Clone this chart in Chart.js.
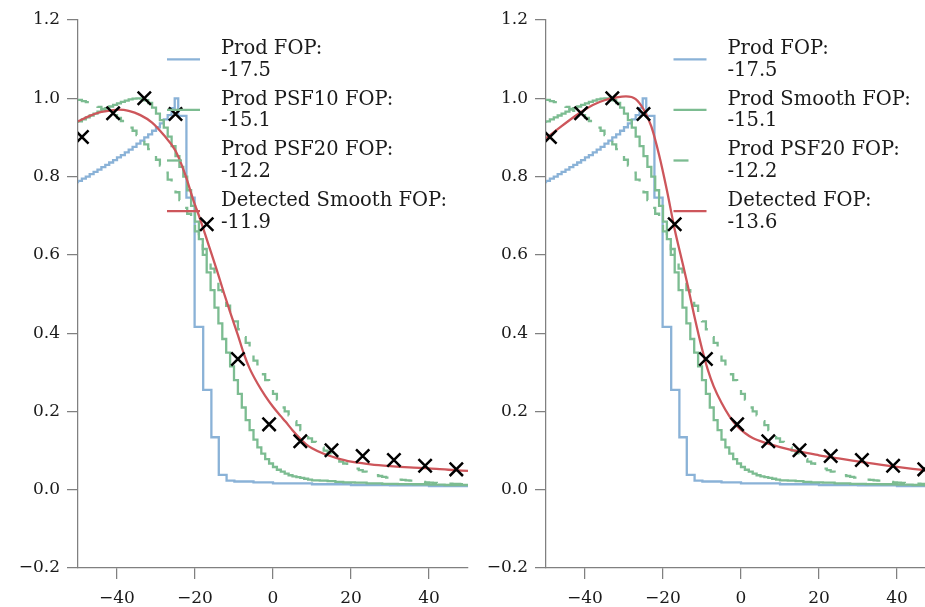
<!DOCTYPE html>
<html><head><meta charset="utf-8">
<script src="https://cdn.jsdelivr.net/npm/chart.js@4.4.1/dist/chart.umd.min.js"></script>
<style>
html,body{margin:0;padding:0;background:#fff;overflow:hidden;width:925px;height:607px;}
.wrap{position:absolute;top:0;width:470px;height:607px;}
#wrapL{left:0;}
#wrapR{left:468px;}
</style></head><body>
<div id="wrapL" class="wrap"><canvas id="cL" width="470" height="607"></canvas></div>
<div id="wrapR" class="wrap"><canvas id="cR" width="470" height="607"></canvas></div>
<script>
// ---------- tick labels ----------
const xTicks = [-40, -20, 0, 20, 40];
const xTickLabels = ['\u221240', '\u221220', '0', '20', '40'];
const yTicks = [-0.2, 0.0, 0.2, 0.4, 0.6, 0.8, 1.0, 1.2];
const yTickLabels = ['\u22120.2', '0.0', '0.2', '0.4', '0.6', '0.8', '1.0', '1.2'];

// ---------- Prod FOP (blue step, both panels) ----------
const prodX = [-50,-49,-48,-47,-46,-45,-44,-43,-42,-41,-40,-39,-38,-37,-36,-35,-34,-33,-32,-31,-30,-29,-28,-27,-26,
  -25.2,-24.3,-22.2,-20.1,-17.9,-15.8,-13.9,-11.9,-9.9,-5,0,10,20,30,40,50];
const prodY = [0.783,0.789,0.795,0.800,0.806,0.812,0.818,0.824,0.830,0.836,0.842,0.849,0.855,0.862,0.869,0.876,0.884,0.892,0.900,0.908,0.917,0.926,0.936,0.946,0.957,
  0.975,1.0,0.955,0.746,0.416,0.255,0.134,0.038,0.023,0.021,0.019,0.016,0.014,0.012,0.011,0.0095];

// ---------- Prod PSF10 / Smooth FOP (green solid step) ----------
const smoothX = [-50,-49,-48,-47,-46,-45,-44,-43,-42,-41,-40,-39,-38,-37,-36,-35,-34,-33,-32,-31,
  -30,-29,-28,-27,-26,-25,-24,-23,-22,-21,-20,-19,-18,-17,-16,-15,-14,-13,-12,-11,
  -10,-9,-8,-7,-6,-5,-4,-3,-2,-1,0,1,2,3,4,5,6,7,8,9,10,
  12,14,16,18,21,24,28,32,36,40,44,48,50];
const smoothY = [0.937,0.941,0.946,0.951,0.956,0.961,0.966,0.971,0.975,0.979,0.983,0.987,0.991,0.994,0.997,0.999,1.000,0.999,0.995,0.988,
  0.976,0.961,0.944,0.925,0.902,0.878,0.852,0.825,0.800,0.765,0.725,0.685,0.640,0.600,0.555,0.510,0.465,0.425,0.385,0.350,
  0.315,0.280,0.245,0.210,0.178,0.152,0.128,0.108,0.092,0.078,0.067,0.058,0.051,0.046,0.041,0.037,0.034,0.032,0.030,0.028,0.026,
  0.024,0.023,0.022,0.020,0.019,0.018,0.016,0.015,0.0145,0.014,0.013,0.012,0.012];

// ---------- Prod PSF20 FOP (green dashed step) ----------
const psf20X = [-50,-49,-48,-47,-46,-45,-44,-43,-42,-41,-40,-39,-38,-37,-36,-35,-34,-33,-32,-31,
  -30,-29,-28,-27,-26,-25,-24,-23,-22,-21,-20,-19,-18,-17,-16,-15,-14,-13,-12,-11,
  -10,-9,-8,-7,-6,-5,-4,-3,-2,-1,0,1,2,3,4,5,6,7,8,9,
  10,11,12,13,14,15,16,17,18,19,20,21,22,23,24,25,26,27,28,29,
  30,31,32,33,34,35,36,37,38,39,40,41,42,43,44,45,46,47,48,49,50];
const psf20Y = [0.998,0.996,0.993,0.990,0.986,0.982,0.978,0.973,0.968,0.962,0.957,0.950,0.942,0.934,0.925,0.917,0.906,0.895,0.882,0.870,
  0.858,0.843,0.828,0.810,0.792,0.775,0.760,0.740,0.720,0.705,0.690,0.660,0.640,0.615,0.585,0.565,0.545,0.510,0.490,0.470,
  0.450,0.430,0.410,0.390,0.375,0.355,0.330,0.320,0.295,0.280,0.265,0.245,0.230,0.210,0.200,0.190,0.175,0.165,0.152,0.140,
  0.131,0.122,0.115,0.108,0.100,0.093,0.085,0.078,0.072,0.067,0.062,0.058,0.054,0.050,0.046,0.043,0.040,0.037,0.035,0.033,
  0.031,0.029,0.027,0.026,0.025,0.024,0.023,0.022,0.021,0.020,0.019,0.018,0.0175,0.017,0.0165,0.016,0.0155,0.015,0.0147,0.0145,0.0145];

// ---------- Detected Smooth FOP (left red curve) ----------
const detSmoothX = [-50,-47,-44,-41,-39.5,-37,-34,-31,-28,-25,-22.5,-20.5,-18.6,-16.5,-14.4,-12.5,-10.9,-9,-7.5,-6,-4,-2,0,2,3.2,5,7,8.5,10,13,16,20,25,30,35,40,45,50];
const detSmoothY = [0.941,0.955,0.965,0.970,0.971,0.968,0.957,0.938,0.906,0.866,0.805,0.742,0.689,0.625,0.561,0.500,0.451,0.395,0.348,0.310,0.272,0.240,0.212,0.188,0.174,0.152,0.130,0.116,0.106,0.092,0.082,0.0715,0.065,0.0605,0.057,0.0545,0.051,0.048];

// ---------- Detected FOP (right red curve) ----------
const detX = [-50,-47,-44,-41,-38,-35,-32,-29.5,-27,-25,-23,-21,-19,-17,-15,-13.6,-12,-10,-8.5,-7,-5,-3,-1,1,3,6.5,10,15,20,25,32,41,47,50];
const detY = [0.898,0.921,0.944,0.965,0.983,0.995,1.002,1.005,0.998,0.972,0.928,0.855,0.765,0.665,0.580,0.519,0.445,0.360,0.306,0.264,0.222,0.188,0.162,0.145,0.132,0.119,0.109,0.097,0.088,0.080,0.069,0.057,0.050,0.046];

// ---------- measured points (black x) ----------
const markX = [-49,-41,-33,-25,-17,-9,-1,7,15,23,31,39,47];
const markY = [0.901,0.962,1.0,0.96,0.678,0.334,0.167,0.124,0.101,0.086,0.076,0.061,0.052];

// ---------- legend texts ----------
const legendLeft = [['Prod FOP:', '-17.5'], ['Prod PSF10 FOP:', '-15.1'], ['Prod PSF20 FOP:', '-12.2'], ['Detected Smooth FOP:', '-11.9']];
const legendRight = [['Prod FOP:', '-17.5'], ['Prod Smooth FOP:', '-15.1'], ['Prod PSF20 FOP:', '-12.2'], ['Detected FOP:', '-13.6']];

// ---------- styles ----------
const BLUE = 'rgb(138,178,215)';
const GREEN = 'rgb(124,188,145)';
const RED = 'rgb(205,86,91)';
const AXIS = '#808080';
const TEXT = '#1a1a1a';
const FONT_FAMILY = "'DejaVu Serif', serif";

function pts(xs, ys) { return xs.map((x, i) => ({ x: x, y: ys[i] })); }

const fopLegend = {
  id: 'fopLegend',
  afterDatasetsDraw(chart, args, opts) {
    const ctx = chart.ctx, area = chart.chartArea;
    const items = chart.data.datasets.filter(d => d.legendText);
    ctx.save();
    ctx.font = '19.5px ' + FONT_FAMILY;
    const textX = area.left + opts.textOffset;
    items.forEach((d, i) => {
      const base = area.top + 34 + i * 50.6;
      ctx.fillStyle = TEXT;
      ctx.textAlign = 'left';
      ctx.textBaseline = 'alphabetic';
      ctx.fillText(d.legendText[0], textX, base);
      ctx.fillText(d.legendText[1], textX, base + 21.7);
      ctx.strokeStyle = d.borderColor;
      ctx.lineWidth = d.borderWidth;
      ctx.setLineDash(d.borderDash ? [15, 100] : []);
      ctx.beginPath();
      ctx.moveTo(textX - 54, base + 5.3);
      ctx.lineTo(textX - 21, base + 5.3);
      ctx.stroke();
    });
    ctx.restore();
  }
};

function makeChart(id, redXs, redYs, legend, textOffset) {
  const tickFont = { family: FONT_FAMILY, size: 17 };
  return new Chart(document.getElementById(id), {
    type: 'line',
    data: {
      datasets: [
        { data: pts(prodX, prodY), stepped: 'after', borderColor: BLUE, borderWidth: 2.3, pointRadius: 0, fill: false, order: 4, clip: 0, legendText: legend[0] },
        { data: pts(smoothX, smoothY), stepped: 'after', borderColor: GREEN, borderWidth: 2.3, pointRadius: 0, fill: false, order: 3, clip: 0, legendText: legend[1] },
        { data: pts(psf20X, psf20Y), stepped: 'after', borderColor: GREEN, borderWidth: 2.3, borderDash: [14, 13], pointRadius: 0, fill: false, order: 2, clip: 0, legendText: legend[2] },
        { data: pts(redXs, redYs), borderColor: RED, borderWidth: 2.3, cubicInterpolationMode: 'monotone', pointRadius: 0, fill: false, order: 1, clip: 0, legendText: legend[3] },
        { data: pts(markX, markY), showLine: false, pointStyle: 'crossRot', pointRadius: 9.4, pointBorderWidth: 2.5, pointBorderColor: '#000', pointBackgroundColor: '#000', borderColor: '#000', order: 0, clip: 0 }
      ]
    },
    options: {
      responsive: false,
      animation: false,
      devicePixelRatio: 1,
      events: [],
      layout: { autoPadding: false, padding: { top: 20, right: 2, left: 0, bottom: 0 } },
      plugins: { legend: { display: false }, tooltip: { enabled: false }, fopLegend: { textOffset: textOffset } },
      scales: {
        x: {
          type: 'linear', min: -50, max: 50,
          afterFit: s => { s.height = 39; },
          afterBuildTicks: s => { s.ticks = xTicks.map(v => ({ value: v })); },
          ticks: { callback: (v, i) => xTickLabels[i], font: tickFont, color: TEXT, padding: 9, maxRotation: 0, autoSkip: false },
          grid: { drawOnChartArea: false, drawTicks: true, tickLength: 11, color: AXIS, lineWidth: 1.25 },
          border: { display: true, color: AXIS, width: 1.25 }
        },
        y: {
          type: 'linear', min: -0.2, max: 1.2,
          afterFit: s => { s.width = 78; },
          afterBuildTicks: s => { s.ticks = yTicks.map(v => ({ value: v })); },
          ticks: { callback: (v, i) => yTickLabels[i], font: tickFont, color: TEXT, padding: 7, autoSkip: false },
          grid: { drawOnChartArea: false, drawTicks: true, tickLength: 11, color: AXIS, lineWidth: 1.25 },
          border: { display: true, color: AXIS, width: 1.25 }
        }
      }
    },
    plugins: [fopLegend]
  });
}

makeChart('cL', detSmoothX, detSmoothY, legendLeft, 143);
makeChart('cR', detX, detY, legendRight, 181.5);
</script>
</body></html>
